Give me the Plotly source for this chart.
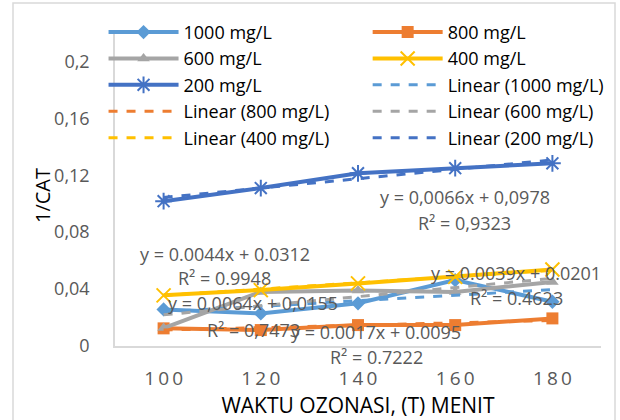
import plotly.graph_objects as go

# Ozonation time (minutes) on the category axis
waktu = [100, 120, 140, 160, 180]
waktu_label = ["1\u20090\u20090", "1\u20092\u20090", "1\u20094\u20090", "1\u20096\u20090", "1\u20098\u20090"]

# 1/CAT for each initial concentration
cat_1000 = [0.0257, 0.0229, 0.0300, 0.0463, 0.0311]
cat_800 = [0.0124, 0.0112, 0.0147, 0.0147, 0.0194]
cat_600 = [0.0126, 0.0380, 0.0390, 0.0380, 0.0450]
cat_400 = [0.0356, 0.0393, 0.0440, 0.0486, 0.0538]
cat_200 = [0.1018, 0.1110, 0.1214, 0.1250, 0.1284]

# Linear trendline coefficients (x = category index 1..5)
slope = [0.0039, 0.0017, 0.0064, 0.0044, 0.0066]
intercept = [0.0201, 0.0095, 0.0155, 0.0312, 0.0978]

# Trendline equation labels
eq_text = ["y = 0.0039x + 0.0201", "y = 0.0017x + 0.0095", "y = 0,0064x + 0,0155",
           "y = 0.0044x + 0.0312", "y = 0,0066x + 0,0978"]
r2_text = ["R² = 0.4623", "R² = 0.7222", "R² = 0,7473", "R² = 0.9948", "R² = 0,9323"]

y_ticks = [0, 0.04, 0.08, 0.12, 0.16, 0.2]
y_ticklabels = ["0", "0,04", "0,08", "0,12", "0,16", "0,2"]

names = ["1000 mg/L", "800 mg/L", "600 mg/L", "400 mg/L", "200 mg/L"]
series = [cat_1000, cat_800, cat_600, cat_400, cat_200]
colors = ["#5B9BD5", "#ED7D31", "#A5A5A5", "#FFC000", "#4472C4"]
symbols = ["diamond", "square", "triangle-up", "x-thin-open", "asterisk-open"]
msizes = [11, 12, 11, 14, 14]

# Two legend columns, filled row by row: 1000 | 800, 600 | 400, 200 | Lin1000, ...
legend_of_series = ["legend", "legend2", "legend", "legend2", "legend"]
legend_of_trend = ["legend2", "legend", "legend2", "legend", "legend2"]

FONT = "Open Sans"
GREY = "#595959"

fig = go.Figure()
for name, ys, c, s, ms, lg in zip(names, series, colors, symbols, msizes, legend_of_series):
    open_sym = s.endswith("open")
    fig.add_trace(go.Scatter(
        x=waktu, y=ys, name=name, mode="lines+markers", legend=lg,
        line=dict(color=c, width=4),
        marker=dict(symbol=s, size=ms, color=c,
                    line=dict(color=c, width=2 if open_sym else 0)),
    ))

idx = [1, 2, 3, 4, 5]
for name, c, m, b, lg in zip(names, colors, slope, intercept, legend_of_trend):
    fig.add_trace(go.Scatter(
        x=waktu, y=[m * i + b for i in idx], name=f"Linear ({name})",
        mode="lines", legend=lg, line=dict(color=c, width=3, dash="dash"),
    ))

# Equation label anchor (category index, value) and pixel drop to its R² line
eq_pos = [(3.63, 0.0511), (2.19, 0.0098), (0.92, 0.0302), (0.63, 0.0646), (3.1, 0.1046)]
r2_drop = [25, 25, 27, 24, 26]
for (ex, ey), drop, eq, r2 in zip(eq_pos, r2_drop, eq_text, r2_text):
    fig.add_annotation(x=ex, y=ey, xref="x", yref="y", text=eq, showarrow=False,
                       font=dict(family=FONT, size=18, color=GREY))
    fig.add_annotation(x=ex, y=ey, xref="x", yref="y", text=r2, showarrow=False,
                       yshift=-drop, font=dict(family=FONT, size=18, color=GREY))

# Vertical axis title, placed in paper units left of the tick labels
fig.add_annotation(x=(42 - 115) / 486, y=(346 - 196) / 313, xref="paper", yref="paper",
                   text="1/CAT", textangle=-90, showarrow=False,
                   xanchor="center", yanchor="middle",
                   font=dict(family=FONT, size=20, color="#000000"))

legend_common = dict(
    orientation="v", xref="container", yref="container",
    xanchor="left", yanchor="top", itemwidth=70,
    font=dict(family=FONT, size=18, color="#000000"),
    bgcolor="rgba(0,0,0,0)", traceorder="normal",
)

fig.update_layout(
    width=620, height=420,
    margin=dict(l=115, r=19, t=33, b=74, autoexpand=False),
    paper_bgcolor="white", plot_bgcolor="white",
    font=dict(family=FONT, color=GREY),
    legend=dict(x=0.167, y=0.967, **legend_common),
    legend2=dict(x=0.593, y=0.967, **legend_common),
    xaxis=dict(
        type="category", range=[-0.5, 4.5],
        tickvals=waktu, ticktext=waktu_label,
        showline=True, linecolor="#D9D9D9", linewidth=1.5,
        showgrid=False, zeroline=False, ticks="",
        tickfont=dict(family=FONT, size=19, color=GREY),
        ticklabelstandoff=14,
        title=dict(text="WAKTU OZONASI, (T) MENIT",
                   font=dict(family=FONT, size=21, color="#000000"), standoff=6),
    ),
    yaxis=dict(
        range=[0, 0.22], tickvals=y_ticks, ticktext=y_ticklabels,
        showline=True, linecolor="#D9D9D9", linewidth=1.5,
        showgrid=False, zeroline=False, ticks="",
        tickfont=dict(family=FONT, size=18, color=GREY),
        ticklabelstandoff=20,
    ),
)

# Outer chart frame
fig.add_shape(type="rect", xref="paper", yref="paper",
              x0=(13 - 115) / 486, x1=(615 - 115) / 486,
              y0=(346 - 425) / 313, y1=(346 - 3) / 313,
              line=dict(color="#D9D9D9", width=1.5), layer="below")

fig.write_html("out.html")
